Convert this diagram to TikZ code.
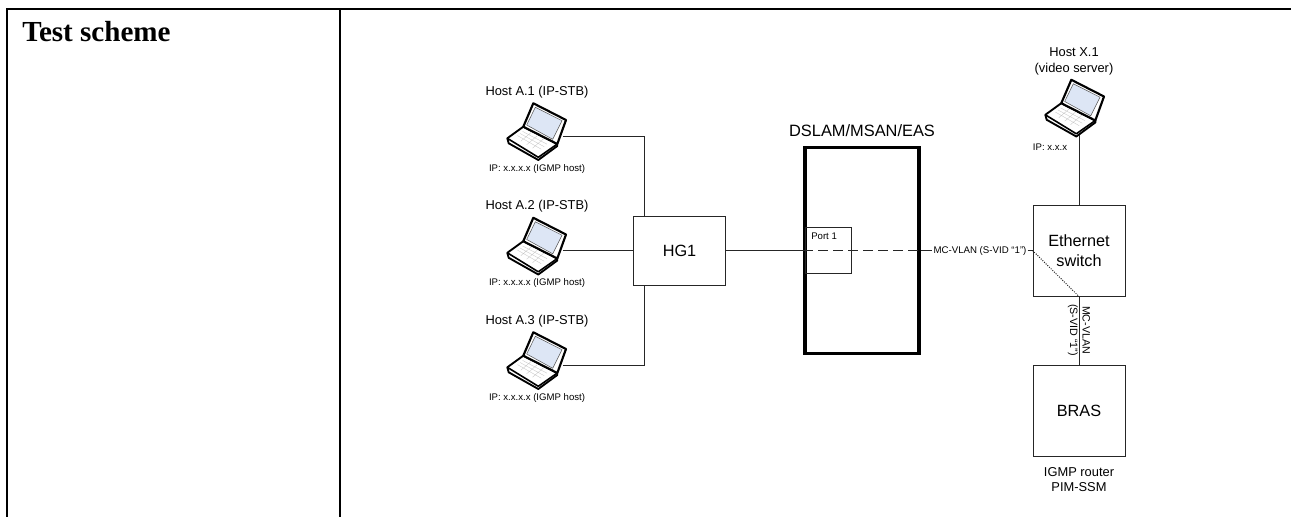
\documentclass[tikz,border=0pt]{standalone}
\usepackage{fontspec}
\setmainfont{Liberation Sans}
\newfontfamily\headfont{Liberation Serif}
\usetikzlibrary{positioning, calc}
\definecolor{screenblue}{HTML}{DDE6F5}
\definecolor{wirecol}{HTML}{262626}
\tikzset{
  netbox/.style={draw=wirecol, line width=0.75pt, inner sep=0pt, align=center, font=\fontsize{12.2}{15}\selectfont},
  hostlabel/.style={inner sep=0pt, align=center, font=\fontsize{9.65}{11.6}\selectfont},
  iplabel/.style={inner sep=0pt, font=\fontsize{7.2}{8.6}\selectfont},
  vlanlabel/.style={inner sep=0.6pt, fill=white, align=center, font=\fontsize{7.25}{9.5}\selectfont},
  wire/.style={draw=wirecol, line width=0.75pt},
  rule/.style={draw=black, line width=1.6pt},
  laptop/.pic={
    \filldraw[white, draw=black, line width=1.4pt, line join=round] (-29.7,6.3) -- (-28.3,11.3) -- (1.3,28) -- (20.3,14) -- (20.3,12) -- (-13.7,-5.3) -- cycle;
    \draw[black, line width=1.2pt, line join=round] (-29.7,6.3) -- (1.3,25.3) -- (20.3,12);
    \draw[gray!45, line width=0.25pt]
      (-14.5,-0.6) -- (10,12.2) (-17,1.5) -- (7.2,14.7) (-19.5,3.6) -- (4.2,17.2)
      (-5.75,0.4) -- (-16.2,9.2) (0.5,3.5) -- (-10.3,12.7) (6.75,6.6) -- (-4.5,16.2);
    \filldraw[white, draw=black, line width=1.6pt, line join=round] (-3.7,-28.7) -- (29,-12) -- (20.3,12) -- (-13.7,-5.3) -- cycle;
    \filldraw[fill=screenblue, draw=gray!70!black, line width=0.4pt] (-1.7,-24.7) -- (25,-11.3) -- (15.7,7.3) -- (-10.3,-7) -- cycle;
    \coordinate (-mid) at (0,0);
    \coordinate (-port) at (26,4);
    \coordinate (-front) at (4,26.5);
  }
}

\begin{document}
\begin{tikzpicture}[x=0.75pt, y=-0.75pt]
\useasboundingbox (0,0) rectangle (1291,517);

% table frame
\draw[rule] (7,517) -- (7,9) -- (1291,9);
\draw[rule] (340,9) -- (340,517);
\node[anchor=base west, inner sep=0pt, font=\headfont\bfseries\fontsize{21.8}{26}\selectfont] (title) at (22,42) {Test scheme};

% hosts
\pic (lapA1) at (537,132) {laptop};
\pic (lapA2) at (537,246.5) {laptop};
\pic (lapA3) at (537,361) {laptop};
\pic (lapX) at (1075,108.5) {laptop};

\node[hostlabel, above=25.5pt of lapA1-mid] (lblA1) {Host A.1 (IP-STB)};
\node[hostlabel, above=25.5pt of lapA2-mid] (lblA2) {Host A.2 (IP-STB)};
\node[hostlabel, above=25.5pt of lapA3-mid] (lblA3) {Host A.3 (IP-STB)};
\node[iplabel, below=24pt of lapA1-mid] (ipA1) {IP: x.x.x.x (IGMP host)};
\node[iplabel, below=24pt of lapA2-mid] (ipA2) {IP: x.x.x.x (IGMP host)};
\node[iplabel, below=24pt of lapA3-mid] (ipA3) {IP: x.x.x.x (IGMP host)};
\node[hostlabel, font=\fontsize{9.65}{12.4}\selectfont] (lblX) at (1074,61.5) {Host X.1\\(video server)};
\node[iplabel] (ipX) at (1050,147) {IP: x.x.x};

% boxes
\node[netbox, minimum width=68.6pt, minimum height=51.75pt] (hg) at (679.5,250.5) {HG1};
\node[netbox, draw=black, line width=2.4pt, minimum width=85.5pt, minimum height=154.5pt] (dslam) at (862,250.5) {};
\node[hostlabel, font=\fontsize{12.3}{15}\selectfont, above=7pt of dslam] (dslamlbl) {DSLAM/MSAN/EAS};
\node[netbox, minimum width=34.5pt, minimum height=34.5pt, anchor=west] (port) at (805,250.5) {};
\node[iplabel, below right=4pt and 4.5pt of port.north west] (portlbl) {Port 1};
\node[netbox, minimum width=69pt, minimum height=68.25pt] (eth) at (1079,250.5) {Ethernet\\switch};
\node[netbox, minimum width=69pt, minimum height=68.25pt] (bras) at (1079,410.5) {BRAS};
\node[hostlabel, below=8pt of bras] (braslbl) {IGMP router\\PIM-SSM};

% vlan labels
\node[vlanlabel] (vlanh) at (980,250.5) {MC-VLAN (S-VID “1”)};
\node[vlanlabel, rotate=-90, font=\fontsize{8}{9.5}\selectfont] (vlanv) at (1079,330) {MC-VLAN\\(S-VID “1”)};

% connectors
\draw[wire] (lapA1-port) -| ([xshift=8.6pt]hg.north west);
\draw[wire] (lapA2-port) -- (hg.west);
\draw[wire] (lapA3-port) -| ([xshift=8.6pt]hg.south west);
\draw[wire] (lapX-front) -- (eth.north);
\draw[wire] (hg.east) -- (dslam.west);
\draw[wire, dash pattern=on 7.5pt off 3.75pt] (dslam.west) -- (dslam.east);
\draw[wire] (dslam.east) -- (vlanh.west);
\draw[wire] (vlanh.east) -- (eth.west);
\draw[wire, densely dotted] (eth.west) -- (eth.south);
\draw[wire] (eth.south) -- (vlanv.east);
\draw[wire] (vlanv.west) -- (bras.north);

\end{tikzpicture}
\end{document}
